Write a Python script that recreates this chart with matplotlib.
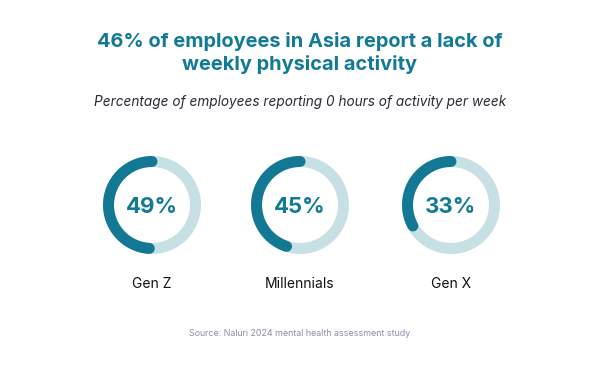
import numpy as np
import matplotlib
matplotlib.use("Agg")
import matplotlib.pyplot as plt

categories = ["Gen Z", "Millennials", "Gen X"]
values = [49, 45, 33]
title = "46% of employees in Asia report a lack of\nweekly physical activity"
subtitle = "Percentage of employees reporting 0 hours of activity per week"
source = "Source: Naluri 2024 mental health assessment study"

dark = "#127893"
light = "#c6e0e4"
title_color = "#137a96"

plt.rcParams['font.family'] = ['Inter', 'DejaVu Sans']

fig = plt.figure(figsize=(6, 3.65), dpi=100)
ax = fig.add_axes([0, 0, 1, 1])
ax.set_xlim(0, 600)
ax.set_ylim(365, 0)
ax.axis('off')

ax.text(300, 53, title, ha='center', va='center', fontsize=14.4,
        fontweight='bold', color=title_color, linespacing=1.3)
ax.text(300, 102, subtitle, ha='center', va='center', fontsize=9.8,
        style='italic', color='#2b2b38')

centers_x = [152, 300, 451]
cy = 205
r = 43.5
lw = 11 * 72 / 100

theta_full = np.linspace(0, 2 * np.pi, 400)
for cx, v, cat in zip(centers_x, values, categories):
    ax.plot(cx + r * np.cos(theta_full), cy - r * np.sin(theta_full),
            color=light, lw=lw, solid_capstyle='butt')
    th = np.linspace(np.pi / 2, np.pi / 2 + v / 100 * 2 * np.pi, 300)
    ax.plot(cx + r * np.cos(th), cy - r * np.sin(th), color=dark, lw=lw,
            solid_capstyle='round')
    ax.text(cx, cy + 2, f"{v}%", ha='center', va='center', fontsize=16,
            fontweight='bold', color=title_color)
    ax.text(cx, 284, cat, ha='center', va='center', fontsize=10, color='#111111')

ax.text(300, 334, source, ha='center', va='center', fontsize=6.4, color='#8d8caa')

fig.savefig("out.png", dpi=100, facecolor='white')
